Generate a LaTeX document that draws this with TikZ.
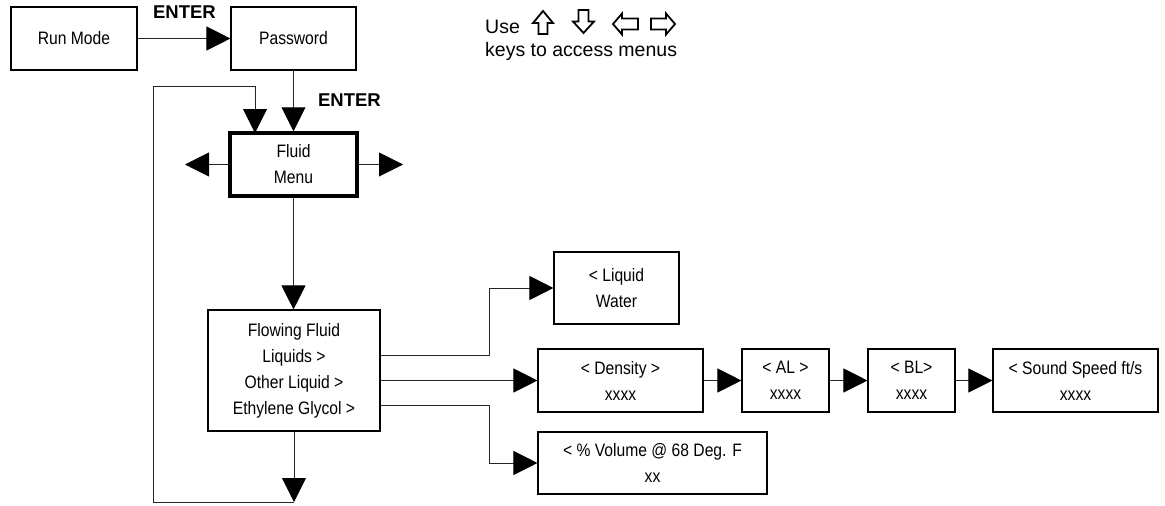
\documentclass[tikz,border=0pt]{standalone}
\usepackage{fontspec}
\setmainfont{Liberation Sans}
\newfontfamily\boxfont[FakeStretch=0.87]{Liberation Sans}
\usetikzlibrary{arrows.meta,calc}
\begin{document}
\begin{tikzpicture}[x=1pt,y=-1pt,
  box/.style={draw=black, line width=1.1pt, fill=white, inner sep=0pt, align=center,
    font=\boxfont\fontsize{18}{26}\selectfont},
  conn/.style={draw=black!85, line width=1pt, -{Triangle[length=24pt,width=24pt,color=black]}},
  lbl/.style={font=\bfseries\fontsize{18.5}{22}\selectfont, inner sep=0pt},
  keytext/.style={font=\fontsize{19.5}{23}\selectfont, inner sep=0pt, anchor=base west},
  keyarrow/.style={draw=black, line width=1.8pt, line join=miter}]

\useasboundingbox (0,0) rectangle (1165,506);

% boxes
\node[box, minimum width=126pt, minimum height=63pt] (run) at (74,38.5) {Run Mode};
\node[box, minimum width=125pt, minimum height=63pt] (pw) at (293.5,38.5) {Password};
\node[box, line width=3.5pt, minimum width=127pt, minimum height=63pt] (fm) at (293.5,164.5) {Fluid\\Menu};
\node[box, minimum width=172pt, minimum height=121pt] (ff) at (294,370.5)
  {Flowing Fluid\\Liquids >\\Other Liquid >\\Ethylene Glycol >};
\node[box, minimum width=125pt, minimum height=72pt] (liq) at (616.5,288) {< Liquid\\Water};
\node[box, minimum width=165pt, minimum height=63pt] (den) at (620.5,380.5) {< Density >\\xxxx};
\node[box, minimum width=87pt, minimum height=63pt] (al) at (785.5,380.5) {< AL >\\xxxx};
\node[box, minimum width=87pt, minimum height=63pt] (bl) at (911.5,380.5) {< BL>\\xxxx};
\node[box, minimum width=165pt, minimum height=63pt] (snd) at (1075.5,380.5) {< Sound Speed ft/s\\xxxx};
\node[box, minimum width=229pt, minimum height=62pt] (vol) at (652.5,463) {< \% Volume @ 68 Deg. F\\xx};

% labels
\node[lbl] (e1) at (184.5,12.5) {ENTER};
\node[lbl] (e2) at (349.5,100) {ENTER};
\node[keytext] (use) at (485,33) {Use};
\node[keytext] (keys) at (485,56) {keys to access menus};

% free ends
\coordinate (loopb) at (294,502);
\coordinate (loopbl) at (153,502);
\coordinate (looptl) at (153,86);
\coordinate (fmin) at (255,133);
\coordinate (fmL) at (185,164.5);
\coordinate (fmR) at (403,164.5);

% connectors
\draw[conn] (run) -- (pw);
\draw[conn] (pw.south) -- (pw.south |- fm.north);
\draw[conn] (fm.west) -- (fmL);
\draw[conn] (fm.east) -- (fmR);
\draw[conn] (fm.south) -- (fm.south |- ff.north);
\draw[conn] (ff.south) -- (loopb);
\draw[conn] (loopb) -- (loopbl) -- (looptl) -| (fmin);
\draw[conn] ([yshift=15.5pt]ff.east) -- ++(109,0) |- (liq.west);
\draw[conn] (ff.east |- den.west) -- (den.west);
\draw[conn] ([yshift=-35pt]ff.east) -- ++(109,0) |- (vol.west);
\draw[conn] (den) -- (al);
\draw[conn] (al) -- (bl);
\draw[conn] (bl) -- (snd);

% key arrow icons
\draw[keyarrow] (543,11) -- (553,23) -- (547.5,23) -- (547.5,34) -- (538.5,34) -- (538.5,23) -- (533,23) -- cycle;
\draw[keyarrow] (578.5,10) -- (588.5,10) -- (588.5,21.5) -- (594,21.5) -- (583.5,33) -- (573,21.5) -- (578.5,21.5) -- cycle;
\draw[keyarrow] (613,24) -- (622,13.5) -- (622,18.5) -- (638,18.5) -- (638,29.5) -- (622,29.5) -- (622,34.5) -- cycle;
\draw[keyarrow] (675,24) -- (666,13.5) -- (666,18.5) -- (651,18.5) -- (651,29.5) -- (666,29.5) -- (666,34.5) -- cycle;
\end{tikzpicture}
\end{document}
